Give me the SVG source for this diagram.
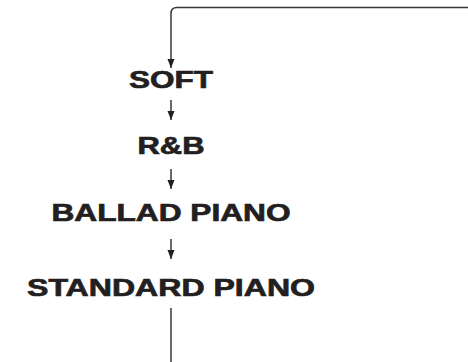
<svg xmlns="http://www.w3.org/2000/svg" width="468" height="362" viewBox="0 0 468 362">
<style>
.lbl{font-family:"Liberation Sans",Arial,sans-serif;font-weight:bold;font-size:24px;fill:#231f20;stroke:#231f20;stroke-width:0.7;text-anchor:middle}
.ln{fill:none;stroke:#3a3637;stroke-width:1.5}
</style>
<defs>
<marker id="ah" markerWidth="10" markerHeight="10" viewBox="0 0 10 8" refX="9" refY="4" orient="auto" markerUnits="userSpaceOnUse">
<path d="M0,0.5 L9,4 L0,7.5 Z" fill="#231f20"/>
</marker>
</defs>
<rect width="468" height="362" fill="#fff"/>
<g id="connectors">
<path class="ln" d="M468,7.5 H177 Q171,7.5 171,13.5 V68" marker-end="url(#ah)"/>
<path class="ln" d="M171,100 V120" marker-end="url(#ah)"/>
<path class="ln" d="M171,169 V189" marker-end="url(#ah)"/>
<path class="ln" d="M171,239 V259" marker-end="url(#ah)"/>
<path class="ln" d="M171,308 V362" stroke="#555"/>
</g>
<g id="soft"><text class="lbl" x="171" y="88" textLength="84" lengthAdjust="spacingAndGlyphs">SOFT</text></g>
<g id="rnb"><text class="lbl" x="171" y="154" textLength="67" lengthAdjust="spacingAndGlyphs">R&amp;B</text></g>
<g id="ballad"><text class="lbl" x="171" y="221" textLength="239" lengthAdjust="spacingAndGlyphs">BALLAD PIANO</text></g>
<g id="standard"><text class="lbl" x="171" y="296" textLength="288" lengthAdjust="spacingAndGlyphs">STANDARD PIANO</text></g>
</svg>
